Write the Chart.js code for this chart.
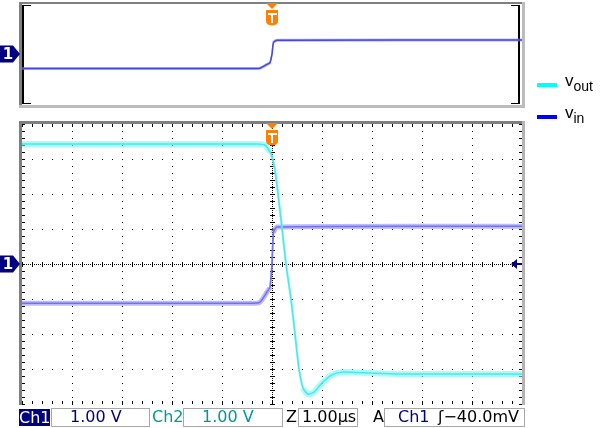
<!DOCTYPE html>
<html lang="en">

<head>
    <meta charset="utf-8">
    <title>Scope capture - vout / vin</title>
    <script src="https://cdn.jsdelivr.net/npm/chart.js"></script>
    <style>
        body {
            margin: 0;
            width: 601px;
            height: 428px;
            background: #fff;
            position: relative;
            overflow: hidden;
            font-family: "DejaVu Sans", sans-serif;
        }

        canvas {
            position: absolute;
            left: 0;
            top: 0;
        }

        .abs {
            position: absolute;
            white-space: nowrap;
        }

        .box {
            position: absolute;
            box-sizing: border-box;
            border: 1px solid #a8a8a8;
            height: 19px;
            top: 408px;
        }

        .st {
            position: absolute;
            font-size: 16px;
            line-height: 18px;
            top: 408px;
            white-space: nowrap;
        }

        .leg {
            position: absolute;
            left: 565px;
            font-family: "Liberation Sans", Arial, sans-serif;
            font-size: 17px;
            line-height: 17px;
            color: #000;
        }

        .leg sub {
            font-size: 14px;
            vertical-align: -5px;
        }

        .swatch {
            position: absolute;
            left: 537px;
            width: 20px;
            height: 4px;
        }
    </style>
</head>

<body>
    <canvas id="topChart" width="601" height="428"></canvas>
    <canvas id="mainChart" width="601" height="428"></canvas>

    <!-- legend -->
    <div class="swatch" style="top:83px;background:#00ffff"></div>
    <div class="leg" style="top:72px">v<sub>out</sub></div>
    <div class="swatch" style="top:115px;background:#0000ff"></div>
    <div class="leg" style="top:104px">v<sub>in</sub></div>

    <!-- status bar -->
    <div class="st" style="left:19px;width:31px;height:17px;top:409px;background:#000080;color:#fff;line-height:17px;text-align:center">Ch1</div>
    <div class="box" style="left:51px;width:99px"></div>
    <div class="st" style="left:70px;color:#000080">1.00 V</div>
    <div class="st" style="left:152px;color:#009999">Ch2</div>
    <div class="box" style="left:183px;width:100px"></div>
    <div class="st" style="left:202px;color:#009999">1.00 V</div>
    <div class="st" style="left:286px;color:#000">Z</div>
    <div class="box" style="left:298px;width:60px"></div>
    <div class="st" style="left:302px;color:#000">1.00µs</div>
    <div class="st" style="left:373px;color:#000">A</div>
    <div class="box" style="left:384px;width:141px"></div>
    <div class="st" style="left:398px;color:#000080">Ch1</div>
    <div class="st" style="left:438px;color:#000">ʃ−40.0mV</div>

    <script>
        // time axis in µs (1.00 µs/div, trigger at 0)
        const timeMin = -5;
        const timeMax = 5;

        // Ch1 = vin, volts (1.00 V/div)
        const vinTime = [-5, -0.4, -0.24, -0.1, -0.04, 0, 0.03, 0.1, 5];
        const vinVolts = [-1.12, -1.12, -1.09, -0.8, -0.66, 0, 0.89, 1.06, 1.08];

        // Ch2 = vout, volts (1.00 V/div)
        const voutTime = [-5, -1, -0.3, -0.14, -0.04, 0, 0.06, 0.2, 0.28, 0.38, 0.46, 0.54, 0.62, 0.72, 0.84, 1.0, 1.2, 1.4, 1.8, 2.5, 5];
        const voutVolts = [3.43, 3.43, 3.43, 3.40, 3.2, 3.06, 2.69, 1.03, 0, -1, -2, -3, -3.54, -3.72, -3.66, -3.4, -3.17, -3.09, -3.11, -3.14, -3.14];

        const toPoints = (xs, ys) => xs.map((x, i) => ({ x: x, y: ys[i] }));

        // thinner stroke on steep edges, like the scope's noise band
        const bandWidth = (wide, thin) => ctx => {
            const dx = Math.abs(ctx.p1.x - ctx.p0.x);
            const dy = Math.abs(ctx.p1.y - ctx.p0.y);
            return dy > 2 * dx ? thin : wide;
        };

        function dot(ctx, x, y) {
            ctx.fillRect(Math.round(x), Math.round(y), 1, 1);
        }

        function triggerMark(ctx, x, top) {
            ctx.fillStyle = '#ff7f00';
            ctx.beginPath();
            ctx.moveTo(x - 6, top);
            ctx.lineTo(x + 6, top);
            ctx.lineTo(x, top + 6);
            ctx.closePath();
            ctx.fill();
            ctx.beginPath();
            ctx.moveTo(x - 6, top + 7);
            ctx.lineTo(x + 6, top + 7);
            ctx.lineTo(x + 6, top + 18);
            ctx.quadraticCurveTo(x + 6, top + 22, x, top + 22.5);
            ctx.quadraticCurveTo(x - 6, top + 22, x - 6, top + 18);
            ctx.closePath();
            ctx.fill();
            ctx.fillStyle = '#fff';
            ctx.fillRect(x - 4, top + 10, 9, 2);
            ctx.fillRect(x - 1, top + 10, 2, 10);
        }

        function channelMark(ctx, cy) {
            ctx.fillStyle = '#000080';
            ctx.beginPath();
            ctx.moveTo(0, cy - 8.5);
            ctx.lineTo(13, cy - 8.5);
            ctx.lineTo(20, cy);
            ctx.lineTo(13, cy + 8.5);
            ctx.lineTo(0, cy + 8.5);
            ctx.closePath();
            ctx.fill();
            ctx.fillStyle = '#fff';
            ctx.font = 'bold 15px "DejaVu Sans"';
            ctx.textAlign = 'center';
            ctx.textBaseline = 'middle';
            ctx.fillText('1', 8, cy + 1);
        }

        const scopeFrame = {
            id: 'scopeFrame',
            beforeDatasetsDraw(chart, args, opts) {
                const { ctx, chartArea: a, scales } = chart;
                const xs = scales.x, ys = scales.y;
                ctx.save();
                if (opts.grid) {
                    ctx.fillStyle = '#000';
                    const divX = xs.getPixelForValue(1) - xs.getPixelForValue(0);
                    const divY = ys.getPixelForValue(0) - ys.getPixelForValue(1);
                    const mx = divX / 5, my = divY / 5;
                    // vertical grid lines
                    for (let t = timeMin + 1; t < timeMax; t++) {
                        const x = xs.getPixelForValue(t);
                        if (t === 0) {
                            for (let y = a.top; y <= a.bottom; y += 2) dot(ctx, x, y);
                            for (let y = a.top; y <= a.bottom + 0.5; y += my) {
                                ctx.fillRect(Math.round(x) - 2, Math.round(y), 5, 1);
                            }
                        } else {
                            for (let y = a.top; y <= a.bottom + 0.5; y += my) dot(ctx, x, y);
                        }
                    }
                    // horizontal grid lines
                    for (let v = -3; v <= 3; v++) {
                        const y = ys.getPixelForValue(v);
                        if (v === 0) {
                            for (let x = a.left; x <= a.right; x += 2) dot(ctx, x, y);
                            for (let x = a.left; x <= a.right + 0.5; x += mx) {
                                ctx.fillRect(Math.round(x), Math.round(y) - 2, 1, 5);
                            }
                        } else {
                            for (let x = a.left; x <= a.right + 0.5; x += mx) dot(ctx, x, y);
                        }
                    }
                    // edge ticks
                    for (let x = a.left; x <= a.right + 0.5; x += mx) {
                        ctx.fillRect(Math.round(x), a.top, 1, 3);
                        ctx.fillRect(Math.round(x), a.bottom - 3, 1, 3);
                    }
                    for (let y = a.top; y <= a.bottom + 0.5; y += my) {
                        ctx.fillRect(a.left, Math.round(y), 3, 1);
                        ctx.fillRect(a.right - 3, Math.round(y), 3, 1);
                    }
                    // frame
                    ctx.fillStyle = '#7f7f7f';
                    ctx.fillRect(a.left - 3, a.top - 3, a.right - a.left + 6, 3);
                    ctx.fillRect(a.left - 3, a.top - 3, 3, a.bottom - a.top + 4);
                    ctx.fillStyle = '#b4b4b4';
                    ctx.fillRect(a.right, a.top - 3, 3, a.bottom - a.top + 4);
                } else {
                    // overview window: inset frame plus black brackets
                    ctx.fillStyle = '#7f7f7f';
                    ctx.fillRect(a.left - 3, a.top - 2, a.right - a.left + 5, 2);
                    ctx.fillRect(a.left - 3, a.top - 2, 3, a.bottom - a.top + 4);
                    ctx.fillStyle = '#bcbcbc';
                    ctx.fillRect(a.left - 3, a.bottom + 1, a.right - a.left + 6, 3);
                    ctx.fillRect(a.right, a.top - 2, 3, a.bottom - a.top + 6);
                    ctx.fillStyle = '#000';
                    ctx.fillRect(a.left, a.top + 1, 2, a.bottom - a.top - 1);
                    ctx.fillRect(a.left, a.top + 1, 9, 1);
                    ctx.fillRect(a.left, a.bottom - 1, 9, 1);
                    ctx.fillRect(a.right - 4, a.top + 1, 2, a.bottom - a.top - 1);
                    ctx.fillRect(a.right - 11, a.top + 1, 9, 1);
                    ctx.fillRect(a.right - 11, a.bottom - 1, 9, 1);
                }
                ctx.restore();
            },
            afterDatasetsDraw(chart, args, opts) {
                const { ctx, chartArea: a, scales } = chart;
                ctx.save();
                triggerMark(ctx, Math.round(scales.x.getPixelForValue(0)), opts.markTop);
                const cy = Math.round(scales.y.getPixelForValue(0));
                channelMark(ctx, cy);
                if (opts.grid) {
                    ctx.fillStyle = '#000080';
                    ctx.beginPath();
                    ctx.moveTo(a.right - 11, cy);
                    ctx.lineTo(a.right - 5, cy - 5);
                    ctx.lineTo(a.right - 5, cy + 5);
                    ctx.closePath();
                    ctx.fill();
                    ctx.fillRect(a.right - 5, cy - 1, 5, 2);
                }
                ctx.restore();
            }
        };

        function scopeOptions(padding, yMin, yMax, frame) {
            return {
                responsive: false,
                animation: false,
                devicePixelRatio: 1,
                layout: { padding: padding },
                elements: { point: { radius: 0 }, line: { tension: 0.2 } },
                scales: {
                    x: { type: 'linear', min: timeMin, max: timeMax, display: false },
                    y: { min: yMin, max: yMax, display: false }
                },
                plugins: {
                    legend: { display: false },
                    tooltip: { enabled: false },
                    scopeFrame: frame
                }
            };
        }

        // overview record (Ch1 only)
        new Chart(document.getElementById('topChart'), {
            type: 'line',
            data: {
                datasets: [
                    {
                        label: 'vin',
                        data: toPoints(vinTime, vinVolts),
                        borderColor: '#4646e6',
                        borderWidth: 1.5,
                        order: 0
                    },
                    {
                        label: 'vin band',
                        data: toPoints(vinTime, vinVolts),
                        borderColor: 'rgba(120,120,250,0.55)',
                        borderWidth: 3,
                        segment: { borderWidth: bandWidth(3, 1.5) },
                        order: 1
                    }
                ]
            },
            options: scopeOptions({ left: 22, right: 79, top: 4, bottom: 324 }, -3.85, 3.85,
                { grid: false, markTop: 3 }),
            plugins: [scopeFrame]
        });

        // main screen, Ch1 and Ch2
        new Chart(document.getElementById('mainChart'), {
            type: 'line',
            data: {
                datasets: [
                    {
                        label: 'vout',
                        data: toPoints(voutTime, voutVolts),
                        borderColor: '#55e4e4',
                        borderWidth: 1.5,
                        order: 0
                    },
                    {
                        label: 'vout band',
                        data: toPoints(voutTime, voutVolts),
                        borderColor: 'rgba(110,250,250,0.6)',
                        borderWidth: 6,
                        segment: { borderWidth: bandWidth(6, 2.5) },
                        order: 1
                    },
                    {
                        label: 'vin',
                        data: toPoints(vinTime, vinVolts),
                        borderColor: '#7272ec',
                        borderWidth: 1.5,
                        order: 2
                    },
                    {
                        label: 'vin band',
                        data: toPoints(vinTime, vinVolts),
                        borderColor: 'rgba(140,140,250,0.6)',
                        borderWidth: 5,
                        segment: { borderWidth: bandWidth(5, 2) },
                        order: 3
                    }
                ]
            },
            options: scopeOptions({ left: 22, right: 79, top: 124, bottom: 24 }, -4, 4,
                { grid: true, markTop: 123 }),
            plugins: [scopeFrame]
        });
    </script>
</body>

</html>
